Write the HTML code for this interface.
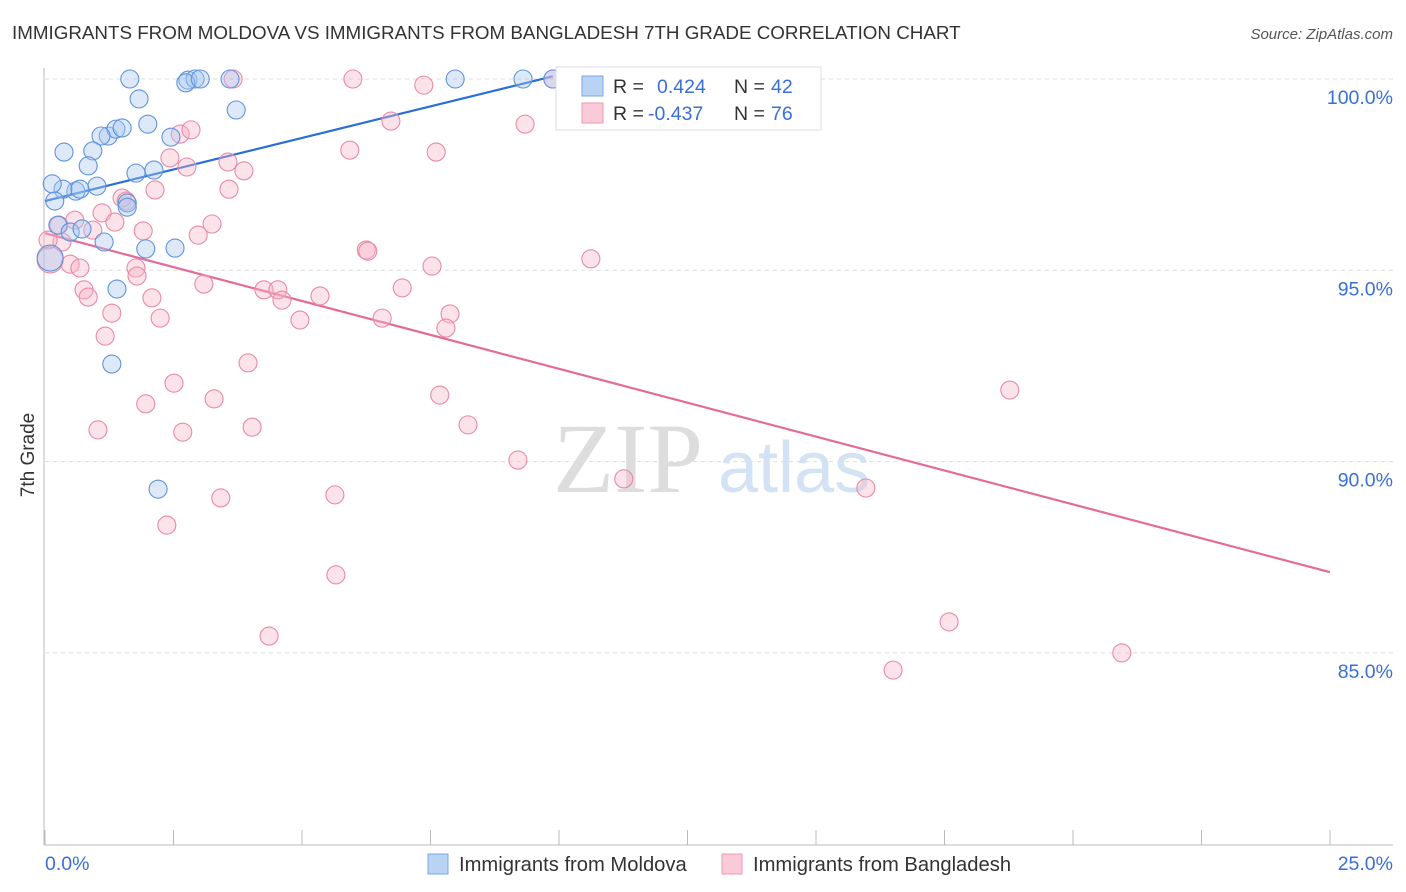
<!DOCTYPE html>
<html><head><meta charset="utf-8"><style>
body{margin:0;background:#fff;font-family:"Liberation Sans",sans-serif}
svg{display:block}
</style></head><body>
<svg id="chart" width="1406" height="892">
<text x="12" y="39" font-size="18.8" fill="#333">IMMIGRANTS FROM MOLDOVA VS IMMIGRANTS FROM BANGLADESH 7TH GRADE CORRELATION CHART</text>
<text x="1393" y="39" font-size="15" fill="#555" font-style="italic" text-anchor="end">Source: ZipAtlas.com</text>
<g><text x="553" y="492" font-size="100" fill="#ddd" font-family="Liberation Serif,serif">ZIP</text><text x="718" y="492" font-size="72" fill="#d4e2f5">atlas</text></g>
<g id="grid"></g>
<g id="axes"></g>
<g id="trend"></g>
<g id="points"></g>
<text transform="translate(34,455) rotate(-90)" font-size="19" fill="#333" text-anchor="middle">7th Grade</text>
<text x="45" y="870" font-size="19.5" fill="#3a6fd8">0.0%</text>
<text x="1393" y="870" font-size="19.5" fill="#3a6fd8" text-anchor="end">25.0%</text>
<g>
<rect x="556" y="67" width="265" height="63" fill="#fff" stroke="#ddd"/>
<rect x="582" y="76" width="21" height="20" fill="#b9d3f5" stroke="#7aa6e6"/>
<rect x="582" y="103" width="21" height="20" fill="#fbcad8" stroke="#ee9ab3"/>
<text x="613" y="93" font-size="19.5" fill="#333">R = </text><text x="657" y="93" font-size="19.5" fill="#3a6fd8">0.424</text>
<text x="734" y="93" font-size="19.5" fill="#333">N = </text><text x="771" y="93" font-size="19.5" fill="#3a6fd8">42</text>
<text x="613" y="120" font-size="19.5" fill="#333">R = </text><text x="648" y="120" font-size="19.5" fill="#3a6fd8">-0.437</text>
<text x="734" y="120" font-size="19.5" fill="#333">N = </text><text x="771" y="120" font-size="19.5" fill="#3a6fd8">76</text>
</g>
<g>
<rect x="428" y="854" width="20" height="20" fill="#b9d3f5" stroke="#7aa6e6"/>
<text x="459" y="871" font-size="20.2" fill="#333">Immigrants from Moldova</text>
<rect x="722" y="854" width="20" height="20" fill="#fbcad8" stroke="#ee9ab3"/>
<text x="753" y="871" font-size="20.2" fill="#333">Immigrants from Bangladesh</text>
</g>
</svg>
<script>
const yTicks=[100,95,90,85];
const yTickLabels=["100.0%","95.0%","90.0%","85.0%"];
const blueX=[1.65,2.78,2.92,2.74,3.02,3.60,7.98,9.30,9.88,1.83,3.72,2.00,0.37,1.23,1.38,1.50,1.09,0.93,0.84,2.45,2.12,1.77,1.01,0.60,0.35,0.68,0.14,0.19,1.60,1.60,0.25,0.49,0.72,1.15,1.96,2.53,1.40,1.30,2.20,0.10,13.68];
const blueY=[100,99.97,100,99.9,100,100,100,100,100,99.48,99.19,98.82,98.09,98.51,98.69,98.72,98.51,98.12,97.73,98.48,97.62,97.54,97.20,97.07,97.12,97.12,97.26,96.81,96.76,96.65,96.18,96.00,96.08,95.74,95.56,95.58,94.51,92.55,89.28,95.32,99.97];
const pinkX=[3.66,5.99,7.37,9.88,2.63,2.84,6.73,9.34,5.93,7.61,2.43,2.76,3.56,3.87,2.14,3.58,1.50,1.58,1.11,1.36,3.25,1.91,2.98,0.27,0.58,0.93,0.33,0.06,0.10,0.49,0.68,1.77,1.79,6.25,6.28,10.62,7.53,0.76,0.84,2.08,3.09,4.26,4.53,4.61,5.35,6.95,1.30,2.24,4.96,6.56,7.88,7.80,1.17,3.95,2.51,1.96,3.29,7.68,18.77,1.03,2.68,4.03,8.23,9.20,11.26,15.97,3.42,5.64,2.37,5.66,4.36,17.59,16.50,20.95];
const pinkY=[100,100,99.84,100,98.56,98.67,98.90,98.82,98.14,98.09,97.94,97.70,97.83,97.60,97.10,97.12,96.89,96.81,96.50,96.26,96.21,96.03,95.92,96.18,96.31,96.05,95.74,95.79,95.27,95.16,95.06,95.06,94.85,95.53,95.50,95.30,95.11,94.49,94.30,94.28,94.64,94.49,94.49,94.22,94.33,94.54,93.88,93.75,93.70,93.75,93.86,93.49,93.28,92.58,92.05,91.51,91.64,91.74,91.87,90.83,90.77,90.90,90.96,90.04,89.55,89.31,89.05,89.13,88.34,87.04,85.44,85.81,84.55,85.00];
const blueBig=[39];
const pinkBig=[28];
const blueTrend=[0,96.81,9.88,100.07];
const pinkTrend=[0,95.97,25,87.11];
const NS="http://www.w3.org/2000/svg";
const xs=v=>45+v*51.4;
const ys=v=>79+(100-v)*38.26;
function mk(tag,attrs,parent){const e=document.createElementNS(NS,tag);for(const k in attrs)e.setAttribute(k,attrs[k]);parent.appendChild(e);return e;}
const grid=document.getElementById('grid');
yTicks.forEach((t,i)=>{
  const l=mk('line',{x1:45,x2:1393,y1:ys(t),y2:ys(t),stroke:'#ddd','stroke-dasharray':'4,4'},grid);
  
  
  const tx=mk('text',{x:1393,y:ys(t)+25,'font-size':19.5,fill:'#3a6fd8','text-anchor':'end'},grid);
  tx.textContent=yTickLabels[i];
  
  
});
const axes=document.getElementById('axes');
const ya=mk('line',{x1:44,x2:44,y1:68,y2:845,stroke:'#bbb'},axes);


const xa=mk('line',{x1:44,x2:1393,y1:845,y2:845,stroke:'#bbb'},axes);


for(let i=0;i<=10;i++){const v=i*2.5;const t=mk('line',{x1:xs(v),x2:xs(v),y1:830,y2:845,stroke:'#bbb'},axes);
  
  }
const pts=document.getElementById('points');
function draw(X,Y,big,fill,stroke,name){X.forEach((x,i)=>{const c=mk('circle',{cx:xs(x),cy:ys(Y[i]),r:(big.includes(i)?13:9),fill:fill,stroke:stroke,'stroke-width':1.1,'fill-opacity':0.4},pts);
  
  });}
draw(pinkX,pinkY,pinkBig,'#f7b6c9','#e88aa8','bangladesh-point');
draw(blueX,blueY,blueBig,'#a9c8f0','#5f93dd','moldova-point');
const tr=document.getElementById('trend');
const bt=mk('line',{x1:xs(blueTrend[0]),y1:ys(blueTrend[1]),x2:xs(blueTrend[2]),y2:ys(blueTrend[3]),stroke:'#2a6fd6','stroke-width':2.2},tr);


const pt=mk('line',{x1:xs(pinkTrend[0]),y1:ys(pinkTrend[1]),x2:xs(pinkTrend[2]),y2:ys(pinkTrend[3]),stroke:'#e46b96','stroke-width':2.2},tr);


</script>
</body></html>
